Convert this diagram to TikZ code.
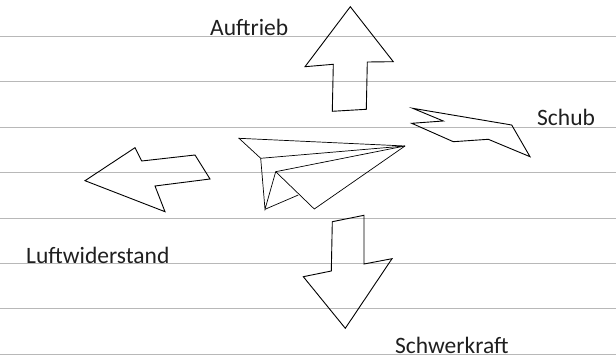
\documentclass[tikz,border=0pt]{standalone}
\usepackage{fontspec}
\setmainfont{Carlito}
\begin{document}
\begin{tikzpicture}[x=1pt,y=-1pt,
  rule/.style={draw=black!28,line width=0.9pt},
  outline/.style={draw=black,line width=0.9pt,line join=miter},
  fold/.style={draw=black,line width=0.7pt,line join=miter},
  label/.style={anchor=base west,inner sep=0pt,text=black!88,font=\fontsize{23.5}{26}\selectfont}]
\useasboundingbox (0,0) rectangle (616,358);

% ruled lines
\foreach \yy in {36,81.5,127,172.5,218,263.3,308.5,354}
  \draw[rule] (0,\yy) -- (616,\yy);

% lift: arrow pointing up
\draw[outline] (350.3,6.7) -- (393.3,61.7) -- (367.3,62) -- (366.3,109.3)
  -- (332.3,111.3) -- (333.3,64.3) -- (305,66.7) -- cycle;

% thrust
\draw[outline] (412.7,108.3) -- (443.3,121) -- (411.7,123.3) -- (453.3,141.7)
  -- (488.3,139.3) -- (530,156.7) -- (511.7,125) -- cycle;

% drag: arrow pointing left
\draw[outline] (85,180.7) -- (135,147.7) -- (141.7,161) -- (195,155)
  -- (210,179) -- (155,186) -- (165,211.7) -- cycle;

% weight: arrow pointing down
\draw[outline] (332.3,221.7) -- (364,215.3) -- (364,264) -- (392,258.7)
  -- (345.3,328.3) -- (303.3,276.7) -- (331.3,271) -- cycle;

% paper plane
\coordinate (pA) at (239,138.3);
\coordinate (pB) at (405,146);
\coordinate (pC) at (260.7,158.3);
\coordinate (pD) at (265,209.3);
\coordinate (pE) at (275.7,171.7);
\coordinate (pF) at (314.3,209);
\coordinate (pG) at (298.3,195);
\draw[fold] (pA) -- (pB) -- (pC) -- cycle;
\draw[fold] (pC) -- (pD) -- (pE) -- (pB);
\draw[fold] (pE) -- (pF) -- (pB);
\draw[fold] (pD) -- (pG);

% labels
\node[label] (auftrieb) at (210,36) {Auftrieb};
\node[label] (schub) at (537,126) {Schub};
\node[label] (luft) at (26,263.3) {Luftwiderstand};
\node[label] (schwer) at (395,353.3) {Schwerkraft};
\end{tikzpicture}
\end{document}
